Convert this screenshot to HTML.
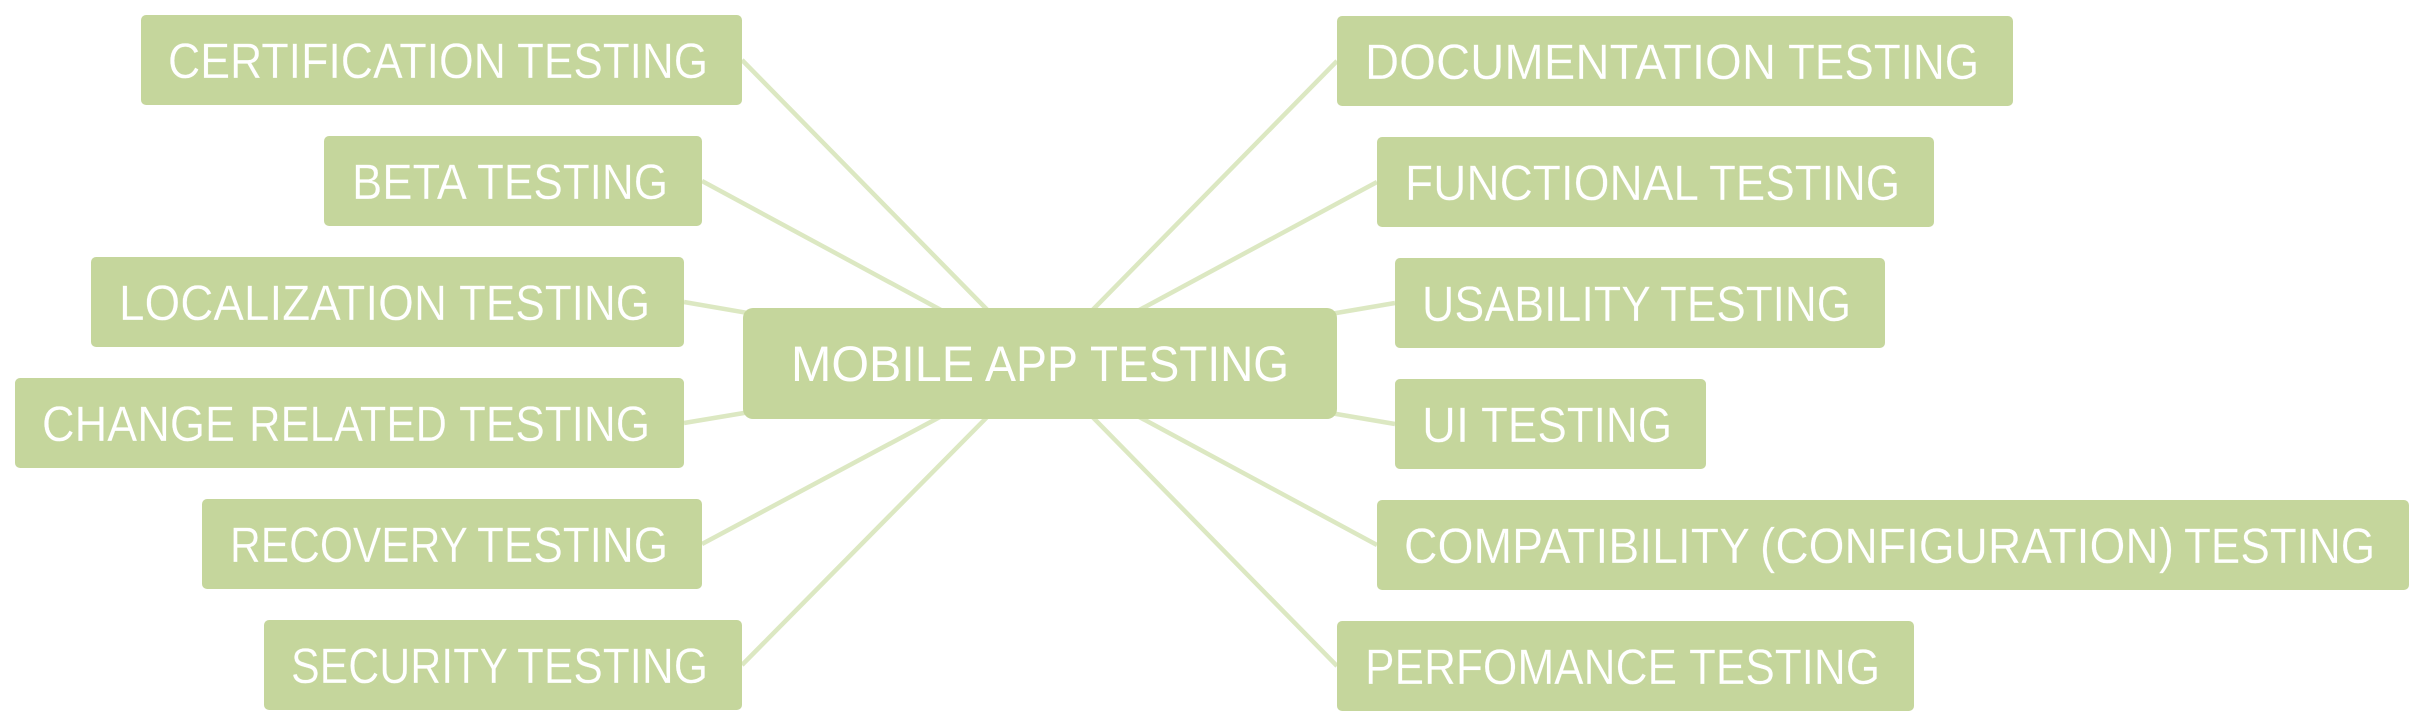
<!DOCTYPE html>
<html>
<head>
<meta charset="utf-8">
<style>
html,body{margin:0;padding:0;background:#fff;width:2425px;height:727px;overflow:hidden}
svg{display:block}
text{font-family:"Liberation Sans",sans-serif;font-size:50px;fill:#fff;stroke:#c5d69c;stroke-width:.25px;text-rendering:geometricPrecision}
text.c{stroke:none}
rect{fill:#c5d69c}
line{stroke:#dce8c2;stroke-width:4.5}
</style>
</head>
<body>
<svg width="2425" height="727" viewBox="0 0 2425 727" xmlns="http://www.w3.org/2000/svg">
<g>
<line x1="742" y1="60" x2="1040" y2="363.5"/>
<line x1="702" y1="181" x2="1040" y2="363.5"/>
<line x1="684" y1="302" x2="1040" y2="363.5"/>
<line x1="684" y1="423" x2="1040" y2="363.5"/>
<line x1="702" y1="544" x2="1040" y2="363.5"/>
<line x1="742" y1="665" x2="1040" y2="363.5"/>
<line x1="1337" y1="61" x2="1040" y2="363.5"/>
<line x1="1377" y1="182" x2="1040" y2="363.5"/>
<line x1="1395" y1="303" x2="1040" y2="363.5"/>
<line x1="1395" y1="424" x2="1040" y2="363.5"/>
<line x1="1377" y1="545" x2="1040" y2="363.5"/>
<line x1="1337" y1="666" x2="1040" y2="363.5"/>
</g>
<g>
<rect x="743" y="308" width="594" height="111" rx="10"/>
<rect x="141" y="15" width="601" height="90" rx="5"/>
<rect x="324" y="136" width="378" height="90" rx="5"/>
<rect x="91" y="257" width="593" height="90" rx="5"/>
<rect x="15" y="378" width="669" height="90" rx="5"/>
<rect x="202" y="499" width="500" height="90" rx="5"/>
<rect x="264" y="620" width="478" height="90" rx="5"/>
<rect x="1337" y="16" width="676" height="90" rx="5"/>
<rect x="1377" y="137" width="557" height="90" rx="5"/>
<rect x="1395" y="258" width="490" height="90" rx="5"/>
<rect x="1395" y="379" width="311" height="90" rx="5"/>
<rect x="1377" y="500" width="1032" height="90" rx="5"/>
<rect x="1337" y="621" width="577" height="90" rx="5"/>
</g>
<g>
<text class="c" x="791" y="381" textLength="183" lengthAdjust="spacingAndGlyphs">MOBILE</text>
<text class="c" x="985" y="381" textLength="93" lengthAdjust="spacingAndGlyphs">APP</text>
<text class="c" x="1090" y="381" textLength="199" lengthAdjust="spacingAndGlyphs">TESTING</text>

<text x="168" y="78" textLength="338" lengthAdjust="spacingAndGlyphs">CERTIFICATION</text>
<text x="517" y="78" textLength="191" lengthAdjust="spacingAndGlyphs">TESTING</text>

<text x="352" y="199" textLength="115" lengthAdjust="spacingAndGlyphs">BETA</text>
<text x="477" y="199" textLength="191" lengthAdjust="spacingAndGlyphs">TESTING</text>

<text x="119" y="320" textLength="328" lengthAdjust="spacingAndGlyphs">LOCALIZATION</text>
<text x="459" y="320" textLength="191" lengthAdjust="spacingAndGlyphs">TESTING</text>

<text x="42" y="441" textLength="193" lengthAdjust="spacingAndGlyphs">CHANGE</text>
<text x="249" y="441" textLength="198" lengthAdjust="spacingAndGlyphs">RELATED</text>
<text x="459" y="441" textLength="191" lengthAdjust="spacingAndGlyphs">TESTING</text>

<text x="230" y="562" textLength="238" lengthAdjust="spacingAndGlyphs">RECOVERY</text>
<text x="477" y="562" textLength="191" lengthAdjust="spacingAndGlyphs">TESTING</text>

<text x="291" y="683" textLength="217" lengthAdjust="spacingAndGlyphs">SECURITY</text>
<text x="517" y="683" textLength="191" lengthAdjust="spacingAndGlyphs">TESTING</text>

<text x="1365" y="79" textLength="411" lengthAdjust="spacingAndGlyphs">DOCUMENTATION</text>
<text x="1788" y="79" textLength="191" lengthAdjust="spacingAndGlyphs">TESTING</text>

<text x="1405" y="200" textLength="294" lengthAdjust="spacingAndGlyphs">FUNCTIONAL</text>
<text x="1709" y="200" textLength="191" lengthAdjust="spacingAndGlyphs">TESTING</text>

<text x="1422" y="321" textLength="229" lengthAdjust="spacingAndGlyphs">USABILITY</text>
<text x="1660" y="321" textLength="191" lengthAdjust="spacingAndGlyphs">TESTING</text>

<text x="1422" y="442" textLength="47" lengthAdjust="spacingAndGlyphs">UI</text>
<text x="1481" y="442" textLength="191" lengthAdjust="spacingAndGlyphs">TESTING</text>

<text x="1404" y="563" textLength="346" lengthAdjust="spacingAndGlyphs">COMPATIBILITY</text>
<text x="1760" y="563" textLength="414" lengthAdjust="spacingAndGlyphs">(CONFIGURATION)</text>
<text x="2184" y="563" textLength="191" lengthAdjust="spacingAndGlyphs">TESTING</text>

<text x="1365" y="684" textLength="312" lengthAdjust="spacingAndGlyphs">PERFOMANCE</text>
<text x="1689" y="684" textLength="191" lengthAdjust="spacingAndGlyphs">TESTING</text>
</g>
</svg>
</body>
</html>
